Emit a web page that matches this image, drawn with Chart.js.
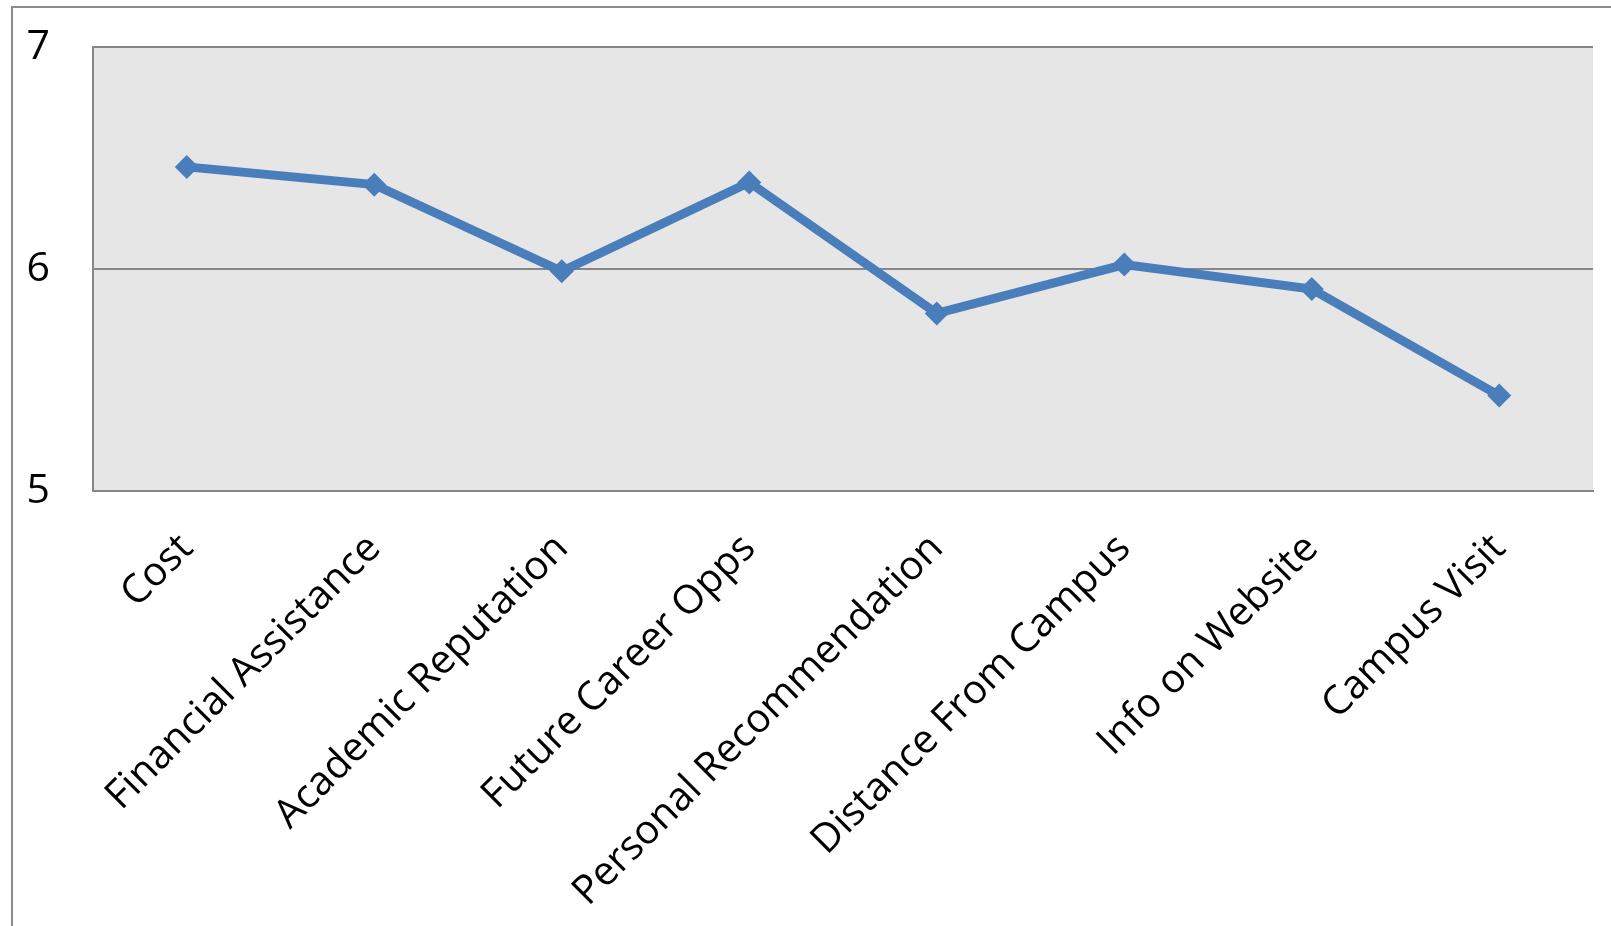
<!DOCTYPE html>
<html>
<head>
<meta charset="utf-8">
<script src="https://cdn.jsdelivr.net/npm/chart.js@4"></script>
<style>
  html, body { margin: 0; padding: 0; background: #fff; overflow: hidden; }
  #wrap { position: relative; width: 1611px; height: 926px; }
</style>
</head>
<body>
<div id="wrap"><canvas id="factorChart" width="1611" height="926"></canvas></div>
<script>
// Data
const categories = ['Cost', 'Financial Assistance', 'Academic Reputation', 'Future Career Opps',
  'Personal Recommendation', 'Distance From Campus', 'Info on Website', 'Campus Visit'];
const ratings = [6.46, 6.38, 5.99, 6.39, 5.80, 6.02, 5.91, 5.43];
const yTicks = [5, 6, 7];

const lineBlue = '#4a7ebb';
const gridGrey = '#868686';

// plot area fill + outer chart frame (cropped at right/bottom like the original)
const framePlugin = {
  id: 'frame',
  beforeDraw(chart) {
    const c = chart.ctx;
    const a = chart.chartArea;
    c.save();
    c.fillStyle = '#e6e6e6';
    c.fillRect(a.left, a.top, a.right - a.left, a.bottom - a.top);
    c.strokeStyle = '#8c8c8c';
    c.lineWidth = 2;
    c.beginPath();
    c.moveTo(12, chart.height);
    c.lineTo(12, 7);
    c.lineTo(chart.width, 7);
    c.stroke();
    c.restore();
  }
};

document.addEventListener('DOMContentLoaded', function() {
  const ctx = document.getElementById('factorChart').getContext('2d');

  new Chart(ctx, {
    type: 'line',
    data: {
      labels: categories,
      datasets: [{
        data: ratings,
        borderColor: lineBlue,
        backgroundColor: lineBlue,
        borderWidth: 9,
        pointStyle: 'rectRot',
        pointRadius: 12,
        pointBorderWidth: 0,
        tension: 0
      }]
    },
    options: {
      responsive: false,
      animation: false,
      layout: { padding: { top: 47, right: 18, left: 0, bottom: 0 } },
      plugins: {
        legend: { display: false },
        tooltip: { enabled: false }
      },
      scales: {
        x: {
          offset: true,
          grid: { display: false, drawTicks: false },
          border: { display: true, color: gridGrey, width: 2 },
          ticks: {
            color: '#000',
            font: { family: '"Open Sans"', size: 40 },
            maxRotation: 45,
            minRotation: 45,
            padding: 34,
            autoSkip: false
          },
          afterFit: function(scale) {
            scale.height = 926 - 491;
            scale.paddingLeft = 0;
            scale.paddingRight = 0;
          }
        },
        y: {
          min: 5,
          max: 7,
          afterBuildTicks: function(scale) {
            scale.ticks = yTicks.map(v => ({ value: v }));
          },
          grid: { color: gridGrey, lineWidth: 2, drawTicks: false },
          border: { display: true, color: gridGrey, width: 2 },
          ticks: {
            color: '#000',
            font: { family: '"Open Sans"', size: 41 },
            padding: 43
          },
          afterFit: function(scale) {
            scale.width = 93;
            scale.paddingTop = 0;
            scale.paddingBottom = 0;
          }
        }
      }
    },
    plugins: [framePlugin]
  });
});
</script>
</body>
</html>
